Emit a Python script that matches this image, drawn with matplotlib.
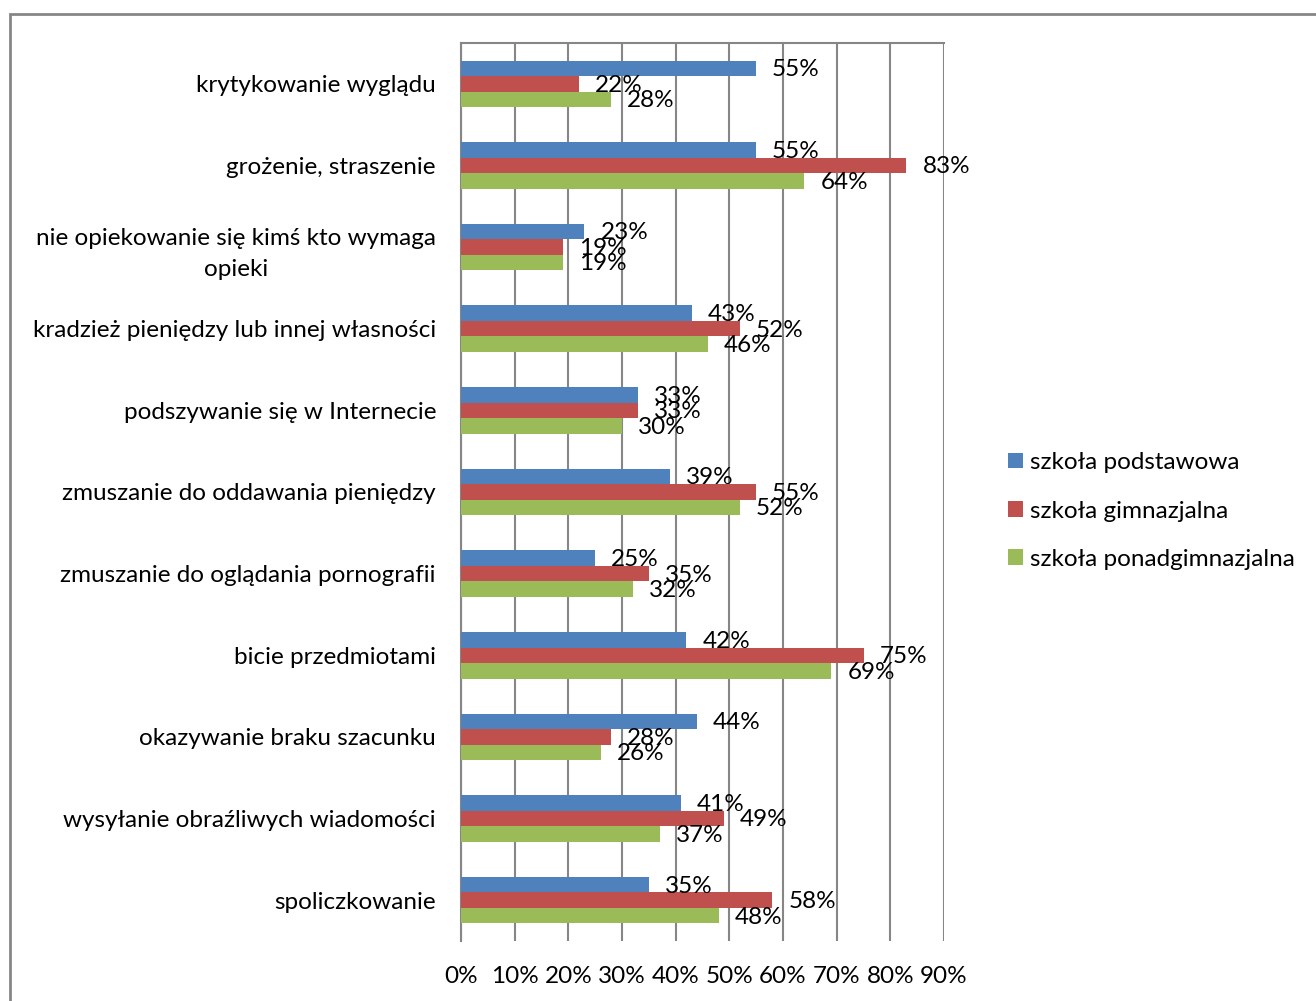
import matplotlib
matplotlib.use("Agg")
import matplotlib.pyplot as plt
import numpy as np
from matplotlib.patches import Rectangle

plt.rcParams["font.family"] = ["Lato", "DejaVu Sans"]

categories = [
    "krytykowanie wyglądu",
    "grożenie, straszenie",
    "nie opiekowanie się kimś kto wymaga\nopieki",
    "kradzież pieniędzy lub innej własności",
    "podszywanie się w Internecie",
    "zmuszanie do oddawania pieniędzy",
    "zmuszanie do oglądania pornografii",
    "bicie przedmiotami",
    "okazywanie braku szacunku",
    "wysyłanie obraźliwych wiadomości",
    "spoliczkowanie",
]
podstawowa = [55, 55, 23, 43, 33, 39, 25, 42, 44, 41, 35]
gimnazjalna = [22, 83, 19, 52, 33, 55, 35, 75, 28, 49, 58]
ponadgimnazjalna = [28, 64, 19, 46, 30, 52, 32, 69, 26, 37, 48]
series_names = ["szkoła podstawowa", "szkoła gimnazjalna", "szkoła ponadgimnazjalna"]
colors = ["#4F81BD", "#C0504D", "#9BBB59"]
xticks = list(range(0, 100, 10))

W, H = 1316, 1001
fig = plt.figure(figsize=(W / 100, H / 100), dpi=100)
ax = fig.add_axes([461 / W, 1 - 941 / H, 483 / W, 898 / H])

grid_c = "#868686"
fs = 17.5
y = np.arange(len(categories))
bh = 0.19
series = [podstawowa, gimnazjalna, ponadgimnazjalna]
for k, (vals, name, c) in enumerate(zip(series, series_names, colors)):
    pos = y + (k - 1) * bh
    ax.barh(pos, vals, height=bh, color=c, label=name, zorder=3)
    for yy, v in zip(pos, vals):
        ax.annotate(f"{v}%", (v, yy), xytext=(11.5, -1), textcoords="offset points",
                    ha="left", va="center", fontsize=fs, zorder=4)

ax.set_xlim(0, 90)
ax.set_ylim(len(categories) - 0.5, -0.5)
ax.set_xticks(xticks)
ax.set_xticklabels([f"{t}%" for t in xticks], fontsize=fs)
ax.set_yticks(y)
ax.set_yticklabels(categories, fontsize=fs, multialignment="center", linespacing=1.6)
ax.tick_params(axis="x", length=0, pad=18)
ax.tick_params(axis="y", length=0, pad=18)
ax.grid(axis="x", color=grid_c, linewidth=1.5, zorder=0)
for s in ["top", "left"]:
    ax.spines[s].set_color(grid_c)
    ax.spines[s].set_linewidth(1.5)
for s in ["bottom", "right"]:
    ax.spines[s].set_visible(False)

ax.legend(loc="center left", bbox_to_anchor=(1008 / W, 1 - 511 / H),
          bbox_transform=fig.transFigure, frameon=False, fontsize=fs,
          handlelength=0.6, handleheight=0.6, handletextpad=0.3, labelspacing=1.12,
          borderaxespad=0, borderpad=0)

fig.patches.append(Rectangle((10 / W, -0.05), 1.2, 1 - 14 / H + 0.05,
                             transform=fig.transFigure, fill=False,
                             edgecolor=grid_c, linewidth=2))

fig.savefig("out.png", dpi=100)
